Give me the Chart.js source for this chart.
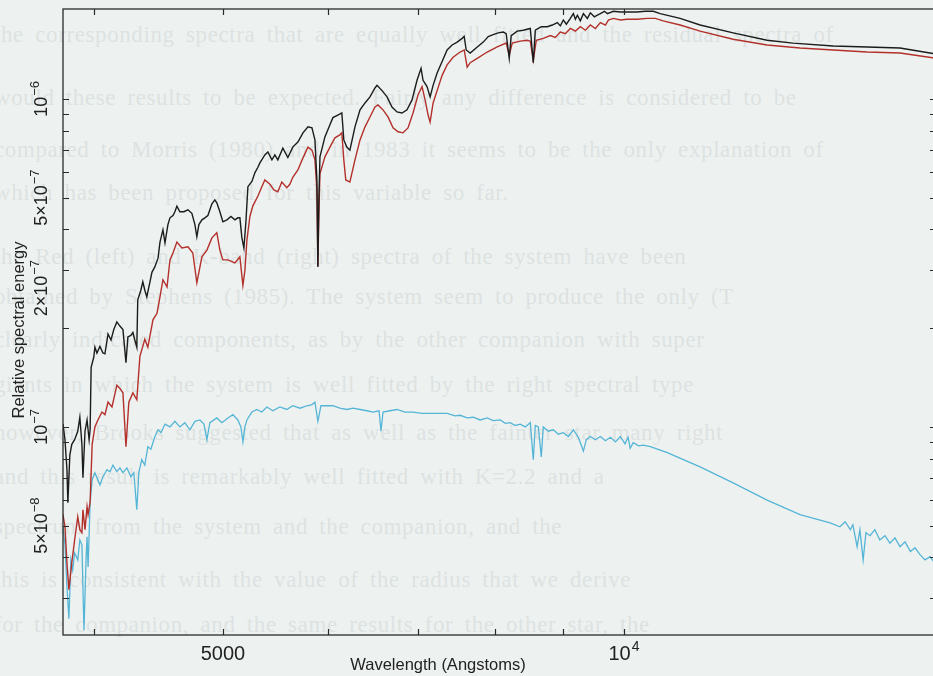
<!DOCTYPE html>
<html>
<head>
<meta charset="utf-8">
<script src="https://cdn.jsdelivr.net/npm/chart.js@4.4.1/dist/chart.umd.min.js"></script>
<style>
  html, body { margin: 0; padding: 0; overflow: hidden; background: #edf2f1; }
  #wrap { position: relative; width: 940px; height: 676px; }
  #ghost { position: absolute; left: 0; top: 0; width: 940px; height: 676px; overflow: hidden;
    font-family: 'Liberation Serif', 'DejaVu Serif', serif; font-size: 23px; color: #dde2e1;
    white-space: nowrap; letter-spacing: 0.6px; word-spacing: 5px; }
  #ghost div { position: absolute; left: -6px; }
  canvas { position: absolute; left: 0; top: 0; }
</style>
</head>
<body>
<div id="wrap">
  <div id="ghost">
    <div style="top:22px">the corresponding spectra that are equally well fitted and the residual spectra of</div>
    <div style="top:85px">would these results to be expected. Fairly any difference is considered to be</div>
    <div style="top:137px">compared to Morris (1980) and in 1983 it seems to be the only explanation of</div>
    <div style="top:180px">which has been proposed for this variable so far.</div>
    <div style="top:244px">the Red (left) and K-band (right) spectra of the system have been</div>
    <div style="top:284px">obtained by Stephens (1985). The system seem to produce the only (T</div>
    <div style="top:327px">clearly indicated components, as by the other companion with super</div>
    <div style="top:372px">giants in which the system is well fitted by the right spectral type</div>
    <div style="top:420px">however, Brooks suggested that as well as the fainter star many right</div>
    <div style="top:464px">and this result is remarkably well fitted with K=2.2 and a</div>
    <div style="top:514px">spectrum from the system and the companion, and the</div>
    <div style="top:567px">this is consistent with the value of the radius that we derive</div>
    <div style="top:612px">for the companion, and the same results for the other star, the</div>
  </div>
  <canvas id="spectrum" width="940" height="676"></canvas>
</div>
<script>
// flux values are in units of 1e-7 (relative spectral energy)
const UNIT = 1e-7;

const blackWave = [3793,3806,3819,3825,3838,3851,3870,3891,3905,3919,
  3926,3940,3954,3968,3975,3982,4000,4008,4022,4043,
  4064,4078,4100,4121,4141,4163,4185,4207,4229,4243,
  4265,4280,4294,4309,4316,4339,4354,4369,4384,4408,
  4423,4446,4470,4485,4508,4524,4547,4563,4587,4602,
  4618,4642,4674,4707,4739,4764,4780,4797,4822,4847,
  4872,4906,4931,4948,4974,5000,5035,5070,5105,5131,
  5149,5167,5185,5203,5221,5257,5285,5312,5330,5376,
  5404,5442,5470,5498,5546,5594,5642,5692,5742,5792,
  5832,5862,5882,5892,5902,5913,5964,6016,6047,6099,
  6141,6162,6194,6227,6282,6337,6392,6447,6503,6526,
  6583,6640,6697,6755,6814,6873,6933,6993,7042,7066,
  7115,7153,7190,7240,7303,7366,7430,7495,7560,7587,
  7613,7666,7760,7841,7909,7977,8046,8116,8158,8201,
  8229,8315,8402,8505,8549,8579,8668,8758,8835,8912,
  8958,9005,9052,9114,9162,9194,9226,9273,9322,9386,
  9435,9501,9550,9600,9667,9717,9818,9938,10052,10230,
  10374,10520,10645,11018,11405,12075,12805,13390,14355,15220,
  16112,17145];
const blackFlux = [1.02,0.914,0.74,0.587,0.82,0.885,0.914,0.97,1.07,0.885,
  0.70,0.97,1.05,0.914,0.98,1.52,1.63,1.75,1.68,1.76,
  1.68,1.67,1.92,1.84,1.98,2.09,2.03,1.98,1.57,1.88,
  1.90,1.94,1.84,1.75,2.44,2.61,2.77,2.61,2.49,2.77,
  2.96,3.08,3.27,3.66,3.99,3.64,4.14,4.34,4.41,4.53,
  4.71,4.53,4.53,4.59,4.48,4.14,3.80,4.14,4.28,4.34,
  4.41,4.79,4.92,4.82,4.53,4.22,4.28,4.38,4.28,4.34,
  4.34,3.77,3.51,4.22,5.40,5.60,5.96,6.19,6.38,6.75,
  6.89,6.52,6.75,6.52,7.08,6.63,7.13,7.39,7.88,8.22,
  8.16,7.50,5.66,3.08,4.92,6.66,7.66,8.34,8.77,8.93,
  9.06,7.50,7.13,6.98,8.22,9.26,9.72,10.14,10.8,11.0,
  10.6,10.14,9.45,9.13,9.06,9.26,9.93,11.4,12.4,11.4,
  10.9,10.14,11.0,12.0,13.0,14.1,14.6,14.9,15.3,15.5,
  14.1,13.8,14.4,14.9,15.5,15.7,15.9,16.0,15.8,13.3,
  15.6,16.1,16.2,16.4,12.9,16.2,16.6,16.6,16.8,17.1,
  16.7,17.4,16.9,17.6,18.2,17.5,18.0,17.3,18.2,17.6,
  18.3,17.8,18.0,18.2,18.5,18.2,18.5,18.4,18.4,18.4,
  18.5,18.5,18.2,17.6,16.8,15.9,15.1,14.8,14.5,14.4,
  14.3,13.7];

const redWave = [3793,3806,3819,3832,3851,3870,3891,3905,3919,3926,
  3940,3954,3961,3975,3989,4008,4029,4057,4078,4100,
  4128,4163,4185,4207,4229,4250,4280,4309,4332,4369,
  4392,4431,4462,4485,4508,4540,4563,4587,4618,4658,
  4707,4747,4780,4822,4864,4906,4948,4974,5000,5044,
  5105,5149,5176,5194,5212,5239,5266,5312,5348,5376,
  5423,5461,5498,5536,5584,5613,5642,5692,5742,5792,
  5832,5862,5882,5892,5902,5913,5964,6016,6068,6120,
  6141,6162,6183,6227,6282,6337,6392,6447,6503,6537,
  6594,6651,6709,6767,6826,6885,6945,7006,7054,7091,
  7128,7153,7190,7240,7303,7366,7443,7534,7587,7626,
  7666,7760,7895,8032,8158,8201,8244,8359,8461,8505,
  8549,8594,8698,8804,8881,8958,9036,9114,9194,9273,
  9354,9435,9517,9600,9684,9734,9818,9938,10052,10230,
  10410,10557,10700,11018,11405,12075,12805,13555,14355,15220,
  16112,17145];
const redFlux = [0.540,0.496,0.385,0.319,0.385,0.452,0.532,0.486,0.476,0.559,
  0.486,0.571,0.540,0.59,0.885,1.00,1.05,1.11,1.09,1.19,
  1.15,1.34,1.31,1.27,0.87,1.19,1.27,1.21,1.64,1.85,
  1.75,2.12,2.22,2.49,2.81,2.67,3.23,3.39,3.66,3.51,
  3.54,3.39,2.75,3.30,3.46,3.77,3.91,3.46,3.23,3.23,
  3.16,3.30,2.70,3.00,3.71,4.38,4.72,5.06,5.40,5.66,
  5.49,5.28,5.21,5.58,5.36,5.49,5.77,6.07,6.61,7.13,
  6.98,6.52,5.28,3.08,4.45,5.91,6.66,7.13,7.61,7.77,
  7.88,6.52,5.66,5.58,6.52,7.50,8.22,8.81,9.45,9.59,
  9.26,8.81,8.16,7.94,7.88,8.16,9.06,10.3,10.9,9.93,
  8.93,8.50,9.72,10.6,11.8,12.7,13.4,13.9,14.1,12.5,
  12.9,13.3,13.9,14.4,14.8,13.6,14.8,15.0,15.1,15.0,
  13.1,15.1,15.3,15.6,15.4,16.0,15.8,16.4,16.1,16.6,
  16.2,16.8,16.4,17.1,16.8,17.4,17.6,17.4,17.5,17.5,
  17.6,17.6,17.3,16.8,16.1,15.2,14.6,14.3,14.1,13.9,
  13.8,13.3];

const cyanWave = [3793,3806,3819,3832,3845,3857,3870,3891,3905,3919,
  3933,3947,3954,3961,3975,3989,4008,4043,4064,4093,
  4114,4135,4163,4185,4207,4236,4265,4287,4309,4324,
  4346,4369,4392,4415,4446,4470,4493,4524,4563,4602,
  4642,4682,4723,4764,4805,4839,4864,4889,4948,4991,
  5044,5087,5131,5158,5176,5194,5212,5257,5302,5348,
  5395,5451,5517,5584,5642,5712,5782,5832,5862,5892,
  5923,5985,6047,6120,6194,6260,6337,6414,6481,6549,
  6571,6594,6674,6755,6849,6945,7054,7153,7253,7366,
  7469,7534,7626,7706,7800,7895,7977,8074,8145,8215,
  8287,8359,8432,8505,8549,8579,8624,8668,8698,8773,
  8850,8927,9005,9083,9162,9241,9322,9370,9435,9517,
  9600,9684,9768,9853,9938,10017,10071,10107,10160,10256,
  10338,10466,10777,11405,12075,12805,13555,14277,14522,14654,
  14787,14851,14961,15032,15117,15190,15299,15425,15560,15697,
  15834,15972,16112,16252,16404,16535,16678,16822,16972,17145];
const cyanFlux = [0.496,0.437,0.326,0.26,0.393,0.366,0.413,0.393,0.452,0.437,
  0.24,0.393,0.462,0.374,0.587,0.69,0.725,0.665,0.705,0.74,
  0.73,0.765,0.73,0.75,0.725,0.75,0.705,0.725,0.559,0.725,
  0.795,0.765,0.87,0.855,0.935,0.98,0.96,1.02,1.00,1.04,
  1.00,1.03,0.98,1.04,1.05,1.02,0.914,1.03,1.065,1.03,
  1.065,1.09,1.05,1.00,0.90,1.00,1.05,1.11,1.13,1.11,
  1.15,1.12,1.15,1.13,1.16,1.14,1.16,1.17,1.19,1.04,
  1.16,1.16,1.16,1.14,1.13,1.14,1.13,1.12,1.11,1.12,
  0.97,1.11,1.12,1.13,1.11,1.11,1.10,1.10,1.10,1.10,
  1.08,1.085,1.065,1.07,1.05,1.065,1.045,1.05,1.025,1.03,
  1.01,1.02,1.00,1.03,0.794,1.01,1.00,0.81,1.00,0.97,
  0.98,0.95,0.96,0.935,0.98,0.93,0.844,0.914,0.935,0.914,
  0.935,0.907,0.93,0.90,0.935,0.888,0.93,0.86,0.895,0.875,
  0.88,0.87,0.835,0.755,0.675,0.598,0.54,0.51,0.496,0.514,
  0.486,0.503,0.431,0.486,0.393,0.476,0.466,0.486,0.452,0.466,
  0.442,0.459,0.431,0.446,0.417,0.428,0.408,0.393,0.402,0.379];

// axis ranges and ticks
const waveMin = 3793, waveMax = 17145;
const fluxMin = 2.32e-8, fluxMax = 1.88e-6;
const xTickValues = [4000, 5000, 6000, 7000, 8000, 9000, 10000];
const xLabelValues = [5000, 10000];
const xLabelBase = ['5000', '10'];
const xLabelSup = ['', '4'];
const yTickValues = [3e-8, 4e-8, 5e-8, 6e-8, 7e-8, 8e-8, 9e-8,
  1e-7, 2e-7, 3e-7, 4e-7, 5e-7, 6e-7, 7e-7, 8e-7, 9e-7, 1e-6];
const yLabelValues = [1e-6, 5e-7, 2.65e-7, 1e-7, 5e-8];
const yLabelBase = ['10', '5\u00d710', '2\u00d710', '10', '5\u00d710'];
const yLabelSup = ['\u22126', '\u22127', '\u22127', '\u22127', '\u22128'];

function toPoints(wave, flux) {
  return wave.map((w, i) => ({ x: w, y: flux[i] * UNIT }));
}

const FONT = "'Liberation Sans', Arial, Helvetica, sans-serif";

function drawSupText(ctx, base, sup, size, supSize, align) {
  ctx.font = size + 'px ' + FONT;
  const wb = ctx.measureText(base).width;
  ctx.font = supSize + 'px ' + FONT;
  const ws = ctx.measureText(sup).width;
  const total = wb + (sup ? ws + 1 : 0);
  let x0 = align === 'center' ? -total / 2 : 0;
  ctx.textAlign = 'left';
  ctx.textBaseline = 'alphabetic';
  ctx.font = size + 'px ' + FONT;
  ctx.fillText(base, x0, 0);
  if (sup) {
    ctx.font = supSize + 'px ' + FONT;
    ctx.fillText(sup, x0 + wb + 1, -size * 0.45);
  }
}

const axesPlugin = {
  id: 'rAxes',
  afterDraw(chart) {
    const ctx = chart.ctx;
    const area = chart.chartArea;
    const xs = chart.scales.x, ys = chart.scales.y;
    ctx.save();
    ctx.strokeStyle = '#2a2a2a';
    ctx.lineWidth = 1.3;
    ctx.strokeRect(area.left, area.top, area.right - area.left, area.bottom - area.top);

    ctx.lineWidth = 1.2;
    ctx.beginPath();
    xTickValues.forEach(v => {
      const px = Math.round(xs.getPixelForValue(v)) + 0.5;
      ctx.moveTo(px, area.bottom); ctx.lineTo(px, area.bottom - 6);
      ctx.moveTo(px, area.top); ctx.lineTo(px, area.top + 6);
    });
    yTickValues.forEach(v => {
      const py = Math.round(ys.getPixelForValue(v)) + 0.5;
      ctx.moveTo(area.left, py); ctx.lineTo(area.left + 6, py);
      ctx.moveTo(area.right, py); ctx.lineTo(area.right - 6, py);
    });
    ctx.stroke();

    ctx.fillStyle = '#222';
    xLabelValues.forEach((v, i) => {
      ctx.save();
      ctx.translate(xs.getPixelForValue(v), 660);
      drawSupText(ctx, xLabelBase[i], xLabelSup[i], 20, 14, 'center');
      ctx.restore();
    });
    yLabelValues.forEach((v, i) => {
      ctx.save();
      ctx.translate(47, ys.getPixelForValue(v));
      ctx.rotate(-Math.PI / 2);
      drawSupText(ctx, yLabelBase[i], yLabelSup[i], 18, 13, 'center');
      ctx.restore();
    });

    ctx.font = '16.5px ' + FONT;
    ctx.textAlign = 'center';
    ctx.textBaseline = 'alphabetic';
    ctx.fillText('Wavelength (Angstoms)', 438, 670);
    ctx.save();
    ctx.translate(24, 330);
    ctx.rotate(-Math.PI / 2);
    ctx.fillText('Relative spectral energy', 0, 0);
    ctx.restore();
    ctx.restore();
  }
};

new Chart(document.getElementById('spectrum').getContext('2d'), {
  type: 'line',
  data: {
    datasets: [
      { label: 'observed', data: toPoints(blackWave, blackFlux),
        borderColor: '#1c1c1c', borderWidth: 1.4 },
      { label: 'model', data: toPoints(redWave, redFlux),
        borderColor: '#b3302b', borderWidth: 1.4 },
      { label: 'companion', data: toPoints(cyanWave, cyanFlux),
        borderColor: '#55b5d6', borderWidth: 1.3 }
    ]
  },
  options: {
    responsive: false,
    animation: false,
    devicePixelRatio: 1,
    layout: { padding: { left: 63, top: 9, right: 4, bottom: 41 } },
    elements: { point: { radius: 0 }, line: { tension: 0 } },
    plugins: { legend: { display: false }, tooltip: { enabled: false } },
    scales: {
      x: { type: 'logarithmic', min: waveMin, max: waveMax, display: false },
      y: { type: 'logarithmic', min: fluxMin, max: fluxMax, display: false }
    }
  },
  plugins: [axesPlugin]
});
</script>
</body>
</html>
